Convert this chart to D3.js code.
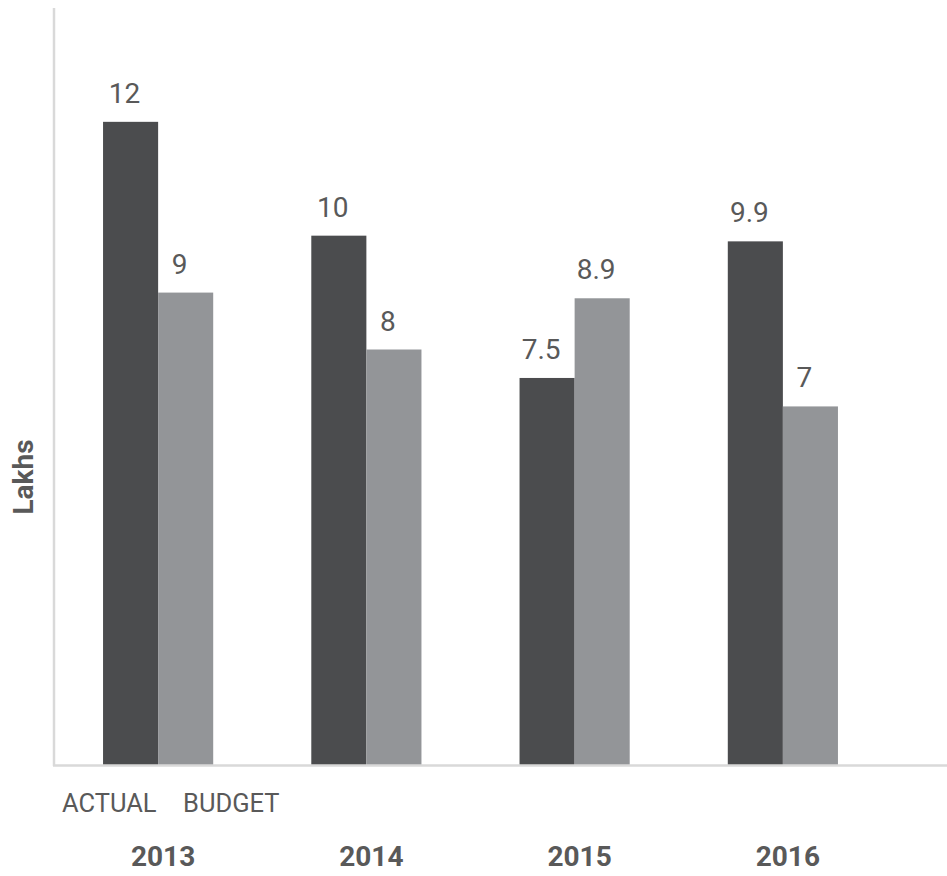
<!DOCTYPE html>
<html>
<head>
<meta charset="utf-8">
<script src="https://cdn.jsdelivr.net/npm/d3@7"></script>
<style>
  html, body { margin: 0; padding: 0; background: #fff; }
  svg { display: block; font-family: Roboto, "Open Sans", sans-serif; }
</style>
</head>
<body>
<svg id="chart" width="947" height="876"></svg>
<script>
// Yearly actual vs budget figures, in lakhs
const years = ["2013", "2014", "2015", "2016"];
const actual = [12, 10, 7.5, 9.9];
const budget = [9, 8, 8.9, 7];
const seriesNames = ["ACTUAL", "BUDGET"];
const seriesColors = ["#4b4c4e", "#939598"];
const yTitle = "Lakhs";

const svg = d3.select("#chart");
const plot = { left: 54, right: 887, top: 8, bottom: 765 };
const textColor = "#595959";

const x = d3.scaleBand()
  .domain(years)
  .range([plot.left, plot.right])
  .paddingInner(0.471)
  .paddingOuter(0.2355);

const x1 = d3.scaleBand()
  .domain(seriesNames)
  .range([0, x.bandwidth()]);

const y = d3.scaleLinear()
  .domain([0.7, 14])
  .range([plot.bottom, plot.top]);

const rows = years.map((yr, i) => ({
  year: yr,
  values: [
    { key: seriesNames[0], value: actual[i], color: seriesColors[0] },
    { key: seriesNames[1], value: budget[i], color: seriesColors[1] }
  ]
}));

const groups = svg.append("g")
  .selectAll("g")
  .data(rows)
  .join("g")
  .attr("transform", d => `translate(${x(d.year)},0)`);

groups.selectAll("rect")
  .data(d => d.values)
  .join("rect")
  .attr("x", d => x1(d.key))
  .attr("y", d => y(d.value))
  .attr("width", x1.bandwidth())
  .attr("height", d => plot.bottom - y(d.value))
  .attr("fill", d => d.color);

groups.selectAll("text.val")
  .data(d => d.values)
  .join("text")
  .attr("class", "val")
  .attr("x", d => x1(d.key) + x1.bandwidth() / 2 - 6)
  .attr("y", d => y(d.value) - 19)
  .attr("text-anchor", "middle")
  .attr("font-size", 28)
  .attr("fill", textColor)
  .text(d => d.value);

// Axis lines
svg.append("line")
  .attr("x1", plot.left).attr("x2", plot.left)
  .attr("y1", plot.top).attr("y2", plot.bottom + 1)
  .attr("stroke", "#d9d9d9").attr("stroke-width", 2.5);
svg.append("line")
  .attr("x1", plot.left - 1).attr("x2", 947)
  .attr("y1", plot.bottom + 0.5).attr("y2", plot.bottom + 0.5)
  .attr("stroke", "#d9d9d9").attr("stroke-width", 2.5);

// Series names under the first group
svg.append("text")
  .attr("x", 62).attr("y", 812)
  .attr("font-size", 25.5).attr("fill", textColor)
  .text(seriesNames[0]);
svg.append("text")
  .attr("x", 183).attr("y", 812)
  .attr("font-size", 25.5).attr("fill", textColor)
  .text(seriesNames[1]);

// Year labels
svg.append("g")
  .selectAll("text")
  .data(years)
  .join("text")
  .attr("x", d => x(d) + x.bandwidth() / 2 + 5)
  .attr("y", 866)
  .attr("text-anchor", "middle")
  .attr("font-size", 28)
  .attr("font-weight", "bold")
  .attr("fill", textColor)
  .text(d => d);

// Y axis title
svg.append("text")
  .attr("transform", "translate(33,477) rotate(-90)")
  .attr("text-anchor", "middle")
  .attr("font-size", 28)
  .attr("font-weight", "bold")
  .attr("fill", textColor)
  .text(yTitle);
</script>
</body>
</html>
